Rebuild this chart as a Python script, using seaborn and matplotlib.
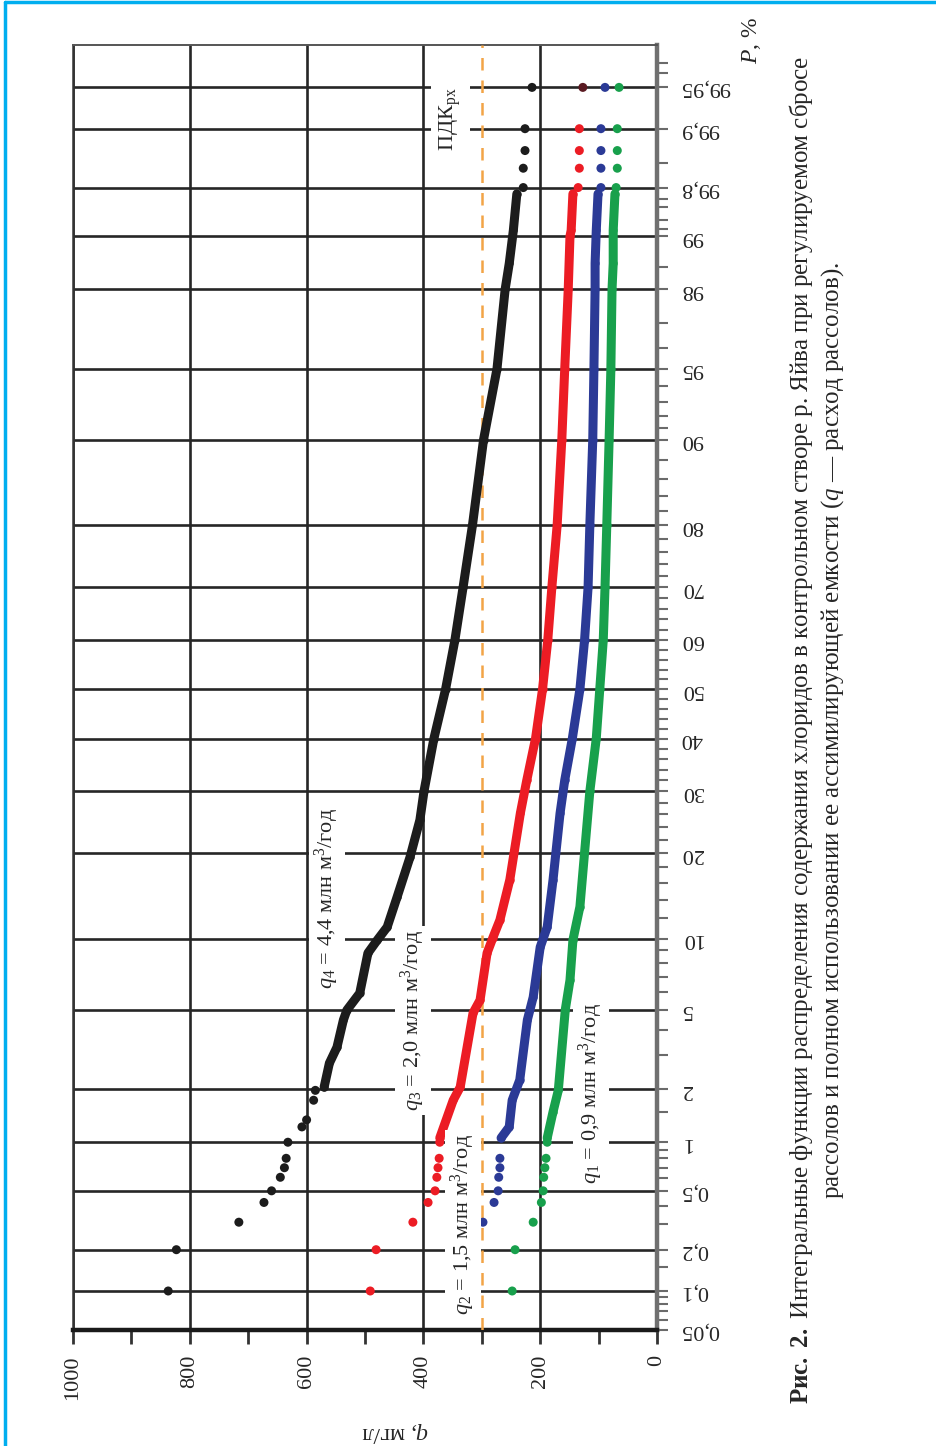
import numpy as np
import pandas as pd
import matplotlib
matplotlib.use("Agg")
import matplotlib.pyplot as plt
from matplotlib.lines import Line2D
import seaborn as sns
from statistics import NormalDist

# ---------------------------------------------------------------
# Chloride content (mg/L) vs. exceedance probability P (%)
# ---------------------------------------------------------------
PDK = 300  # fishery limit, mg/L

# q4 = 4.4 mln m3/yr (black)
q4_band_P = [2.05, 2.74, 3.30, 4.47, 4.97, 5.93, 8.77, 9.88, 11.1, 14.3, 19.4, 25.1,
             30, 40, 50, 60, 70, 80, 90, 95, 98, 98.56, 99.16, 99.75]
q4_band_q = [570, 561, 548, 537, 531, 509, 495, 479, 462, 445, 423, 406,
             399, 382, 362, 346, 332, 316, 297, 274, 260, 253, 246, 240]
q4_dots_P = [0.1, 0.2, 0.31, 0.42, 0.5, 0.61, 0.7, 0.8, 1.0, 1.23, 1.35, 1.74, 1.97,
             99.8, 99.84, 99.87, 99.9, 99.95]
q4_dots_q = [837, 823, 716, 673, 660, 645, 638, 635, 632, 608, 600, 588, 585,
             229, 229, 226, 226, 214]

# q3 = 2.0 mln m3/yr (red)
q3_band_P = [1.06, 1.74, 2.05, 4.82, 5.52, 8.77, 10.1, 11.8, 16.4, 26.2, 32.0,
             40, 50, 60, 70, 80, 90, 95, 98, 99, 99.16, 99.75]
q3_band_q = [372, 349, 337, 315, 303, 291, 281, 269, 252, 234, 223,
             208, 196, 187, 180, 171, 163, 158, 152, 149, 147, 144]
q3_dots_P = [0.1, 0.2, 0.31, 0.42, 0.5, 0.61, 0.7, 0.8, 1.0,
             99.8, 99.84, 99.87, 99.9]
q3_dots_q = [491, 481, 418, 392, 380, 377, 375, 373, 372,
             135, 133, 133, 133]
q3_top_P = [99.95]
q3_top_q = [127]

# q2 = 1.5 mln m3/yr (blue)
q2_band_P = [1.06, 1.23, 1.74, 2.24, 4.47, 5.69, 9.27, 11.1, 16.4, 26.2, 32.0,
             40, 50, 60, 70, 80, 90, 95, 98, 98.56, 99.16, 99.75]
q2_band_q = [267, 253, 248, 235, 222, 212, 200, 188, 178, 166, 158,
             145, 132, 124, 118, 115, 110, 108, 106, 106, 104, 101]
q2_dots_P = [0.31, 0.42, 0.5, 0.61, 0.7, 0.8, 99.8, 99.84, 99.87, 99.9, 99.95]
q2_dots_q = [298, 279, 272, 271, 269, 269, 96, 96, 96, 96, 89]

# q1 = 0.9 mln m3/yr (green)
q1_band_P = [1.06, 1.5, 1.97, 5.0, 6.76, 9.88, 13.2, 30, 40, 50, 60, 70, 80,
             90, 95, 98, 98.56, 99.16, 99.75]
q1_band_q = [188, 178, 169, 157, 149, 144, 132, 115, 104, 98, 92, 89, 86,
             82, 79, 77, 75, 75, 72]
q1_dots_P = [0.1, 0.2, 0.31, 0.42, 0.5, 0.61, 0.7, 0.8, 1.0,
             99.8, 99.84, 99.87, 99.9, 99.95]
q1_dots_q = [248, 243, 212, 198, 195, 194, 192, 190, 188,
             70, 68, 68, 68, 65]

# axis ticks
q_major = [0, 200, 400, 600, 800, 1000]
q_minor = [100, 300, 500, 700, 900]
P_major = [0.05, 0.1, 0.2, 0.5, 1, 2, 5, 10, 20, 30, 40, 50, 60, 70, 80, 90, 95, 98,
           99, 99.8, 99.9, 99.95]
P_major_labels = ["0,05", "0,1", "0,2", "0,5", "1", "2", "5", "10", "20", "30", "40",
                  "50", "60", "70", "80", "90", "95", "98", "99", "99,8", "99,9", "99,95"]
P_minor = [0.06, 0.07, 0.08, 0.09, 0.15, 0.3, 0.4, 0.6, 0.7, 0.8, 0.9, 1.5, 3, 4,
           6, 7, 8, 9, 12, 14, 16, 18, 22, 24, 26, 28, 32, 34, 36, 38, 42, 44, 46, 48,
           52, 54, 56, 58, 62, 64, 66, 68, 72, 74, 76, 78, 82, 84, 86, 88,
           91, 92, 93, 94, 96, 97, 98.5, 99.2, 99.4, 99.6, 99.7, 99.85,
           99.97, 99.98]

# printed probability grid: upper tail of the sheet is compressed
TAIL_PRINTED = [99.0, 99.8, 99.9, 99.95, 99.99]
TAIL_PLACED = [99.0, 99.5, 99.8, 99.9, 99.953]

# ---------------------------------------------------------------
_nd = NormalDist()
_inv = np.vectorize(_nd.inv_cdf, otypes=[float])
_cdf = np.vectorize(_nd.cdf, otypes=[float])


def _z(p):
    p = np.clip(np.asarray(p, dtype=float) / 100.0, 1e-9, 1 - 1e-9)
    return _inv(p)


_zl = _z(TAIL_PRINTED)
_zd = _z(TAIL_PLACED)
_slope = (_zd[-1] - _zd[-2]) / (_zl[-1] - _zl[-2])
_zl_ext = np.concatenate([[-20.0], _zl, [20.0]])
_zd_ext = np.concatenate([[-20.0], _zd, [_zd[-1] + _slope * (20.0 - _zl[-1])]])


def prob_forward(p):
    return np.interp(_z(p), _zl_ext, _zd_ext)


def prob_inverse(y):
    return _cdf(np.interp(np.asarray(y, dtype=float), _zd_ext, _zl_ext)) * 100.0


# ---------------------------------------------------------------
sns.set_style("ticks")
plt.rcParams["font.family"] = ["Liberation Serif", "DejaVu Serif"]
plt.rcParams["mathtext.fontset"] = "custom"
plt.rcParams["mathtext.rm"] = "Liberation Serif"
plt.rcParams["mathtext.it"] = "Liberation Serif:italic"
plt.rcParams["mathtext.bf"] = "Liberation Serif:bold"

W, H = 937, 1446
fig = plt.figure(figsize=(W / 100, H / 100), dpi=100)
fig.patch.set_facecolor("white")
ax = fig.add_axes([73 / W, 1 - 1330 / H, (657 - 73) / W, (1330 - 45) / H])

ax.set_yscale("function", functions=(prob_forward, prob_inverse))
ax.set_xlim(1000, 0)
ax.set_ylim(0.05, 99.99)

BLACK, RED, BLUE, GREEN = "#1c1c1c", "#ec1c24", "#2b3a96", "#18a04c"
series = [
    (q1_band_P, q1_band_q, q1_dots_P, q1_dots_q, GREEN),
    (q2_band_P, q2_band_q, q2_dots_P, q2_dots_q, BLUE),
    (q3_band_P, q3_band_q, q3_dots_P, q3_dots_q, RED),
    (q4_band_P, q4_band_q, q4_dots_P, q4_dots_q, BLACK),
]
for bP, bq, dP, dq, col in series:
    band = pd.DataFrame({"q": bq, "P": bP})
    dots = pd.DataFrame({"q": dq, "P": dP})
    sns.lineplot(data=band, x="q", y="P", sort=False, estimator=None, color=col,
                 lw=6.5, solid_capstyle="round", solid_joinstyle="round",
                 marker="o", markersize=6, markeredgewidth=0, ax=ax, zorder=4)
    sns.scatterplot(data=dots, x="q", y="P", color=col, s=42, edgecolor="none",
                    ax=ax, zorder=4)
sns.scatterplot(x=q3_top_q, y=q3_top_P, color="#5a1a22", s=42, edgecolor="none",
                ax=ax, zorder=4)

ax.axvline(PDK, color="#f2a446", lw=1.8, ls=(0, (5, 4)), zorder=3)

# grid and ticks
ax.set_xticks(q_major)
ax.set_xticklabels([str(v) for v in q_major], rotation=90)
ax.set_xticks(q_minor, minor=True)
ax.set_yticks(P_major)
ax.set_yticklabels(P_major_labels)
ax.set_yticks(P_minor, minor=True)
ax.yaxis.set_minor_formatter(plt.NullFormatter())
ax.yaxis.tick_right()
for lab in ax.get_yticklabels():
    lab.set_rotation(180)
    lab.set_va("center")

ax.set_axisbelow(True)
ax.grid(which="major", color="#262626", lw=1.9)
ax.tick_params(axis="x", which="both", direction="out", length=10, width=2,
               color="#333333", labelsize=16, pad=8)
ax.tick_params(axis="y", which="both", direction="out", length=8, width=1.5,
               color="#6a6a6a", labelsize=16, pad=9)
ax.set_xlabel("")
ax.set_ylabel("")

ax.spines["bottom"].set_linewidth(3.2)
ax.spines["bottom"].set_color("#1a1a1a")
ax.spines["left"].set_linewidth(1.8)
ax.spines["left"].set_color("#333333")
ax.spines["top"].set_linewidth(1.4)
ax.spines["top"].set_color("#555555")
ax.spines["right"].set_linewidth(3.2)
ax.spines["right"].set_color("#707070")

# curve labels
box = dict(facecolor="white", edgecolor="none", pad=3)
ax.text(0.435, 0.336, "$q_4$ = 4,4 млн м$^3$/год", rotation=90, fontsize=16,
        ha="center", va="center", transform=ax.transAxes, bbox=box, zorder=6)
ax.text(0.582, 0.241, "$q_3$ = 2,0 млн м$^3$/год", rotation=90, fontsize=16,
        ha="center", va="center", transform=ax.transAxes, bbox=box, zorder=6)
ax.text(0.668, 0.0817, "$q_2$ = 1,5 млн м$^3$/год", rotation=90, fontsize=16,
        ha="center", va="center", transform=ax.transAxes, bbox=box, zorder=6)
ax.text(0.887, 0.184, "$q_1$ = 0,9 млн м$^3$/год", rotation=90, fontsize=16,
        ha="center", va="center", transform=ax.transAxes, bbox=box, zorder=6)
ax.text(0.646, 0.942, "ПДК$_{\\mathrm{рх}}$", rotation=90, fontsize=16,
        ha="center", va="center", transform=ax.transAxes,
        bbox=dict(facecolor="white", edgecolor="none", pad=5), zorder=6)

# axis titles
fig.text(395 / W, 1 - 1432 / H, "$q$, мг/л", rotation=180, fontsize=17,
         ha="center", va="center")
fig.text(752 / W, 1 - 40 / H, "$P$, %", rotation=90, fontsize=17,
         ha="center", va="center")

# caption
fig.text(801 / W, 1 - 730 / H,
         "$\\mathbf{Рис.\\ 2.}$ Интегральные функции распределения содержания хлоридов "
         "в контрольном створе р. Яйва при регулируемом сбросе",
         rotation=90, fontsize=18, ha="center", va="center")
fig.text(833 / W, 1 - 730 / H,
         "рассолов и полном использовании ее ассимилирующей емкости "
         "($q$ — расход рассолов).",
         rotation=90, fontsize=18, ha="center", va="center")

# page frame
fig.add_artist(Line2D([5 / W, 5 / W], [0, 1 - 2 / H], transform=fig.transFigure,
                      color="#00aeef", lw=2.5))
fig.add_artist(Line2D([5 / W, 1], [1 - 2 / H, 1 - 2 / H], transform=fig.transFigure,
                      color="#00aeef", lw=2.5))

fig.savefig("out.png", dpi=100)
